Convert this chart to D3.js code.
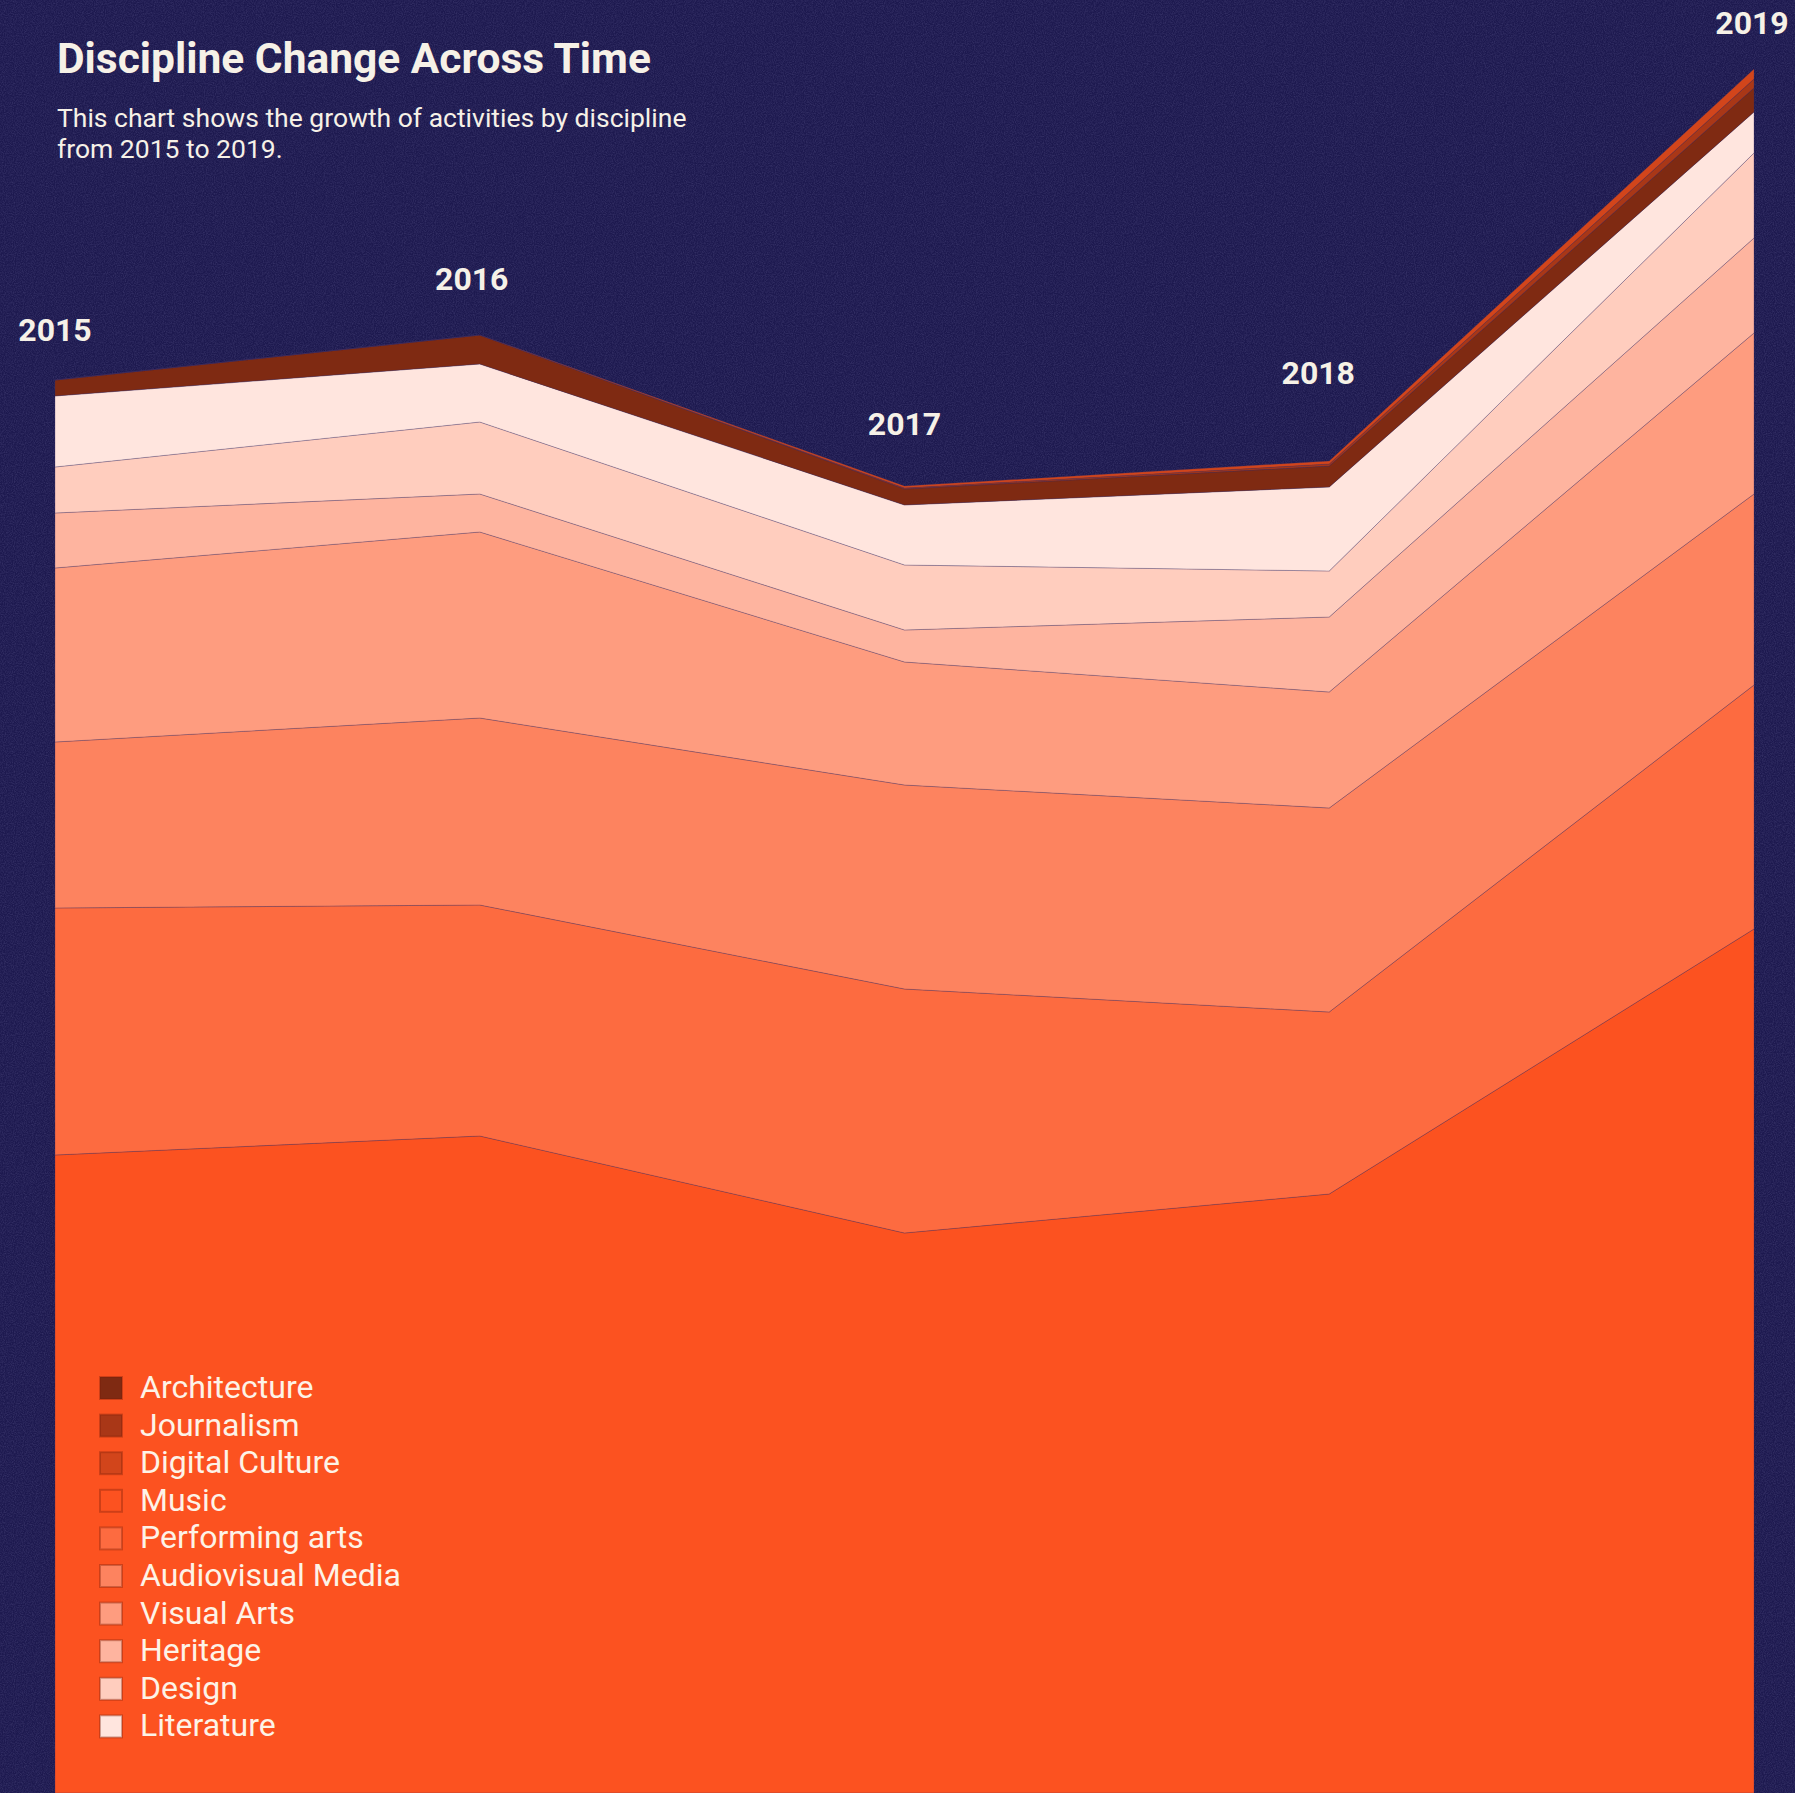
<!DOCTYPE html>
<html>
<head>
<meta charset="utf-8">
<script src="https://cdn.jsdelivr.net/npm/d3@7"></script>
<style>
  html, body { margin: 0; padding: 0; background: #1e1a50; }
  svg { display: block; }
</style>
</head>
<body>
<svg id="chart" width="1795" height="1793"></svg>
<script>
// ---- data (number of activities per discipline and year) ----
const years = [2015, 2016, 2017, 2018, 2019];
const stackKeys = ["Music", "Performing arts", "Audiovisual Media", "Visual Arts", "Heritage",
                   "Design", "Literature", "Architecture", "Journalism", "Digital Culture"];
const legendKeys = ["Architecture", "Journalism", "Digital Culture", "Music", "Performing arts",
                    "Audiovisual Media", "Visual Arts", "Heritage", "Design", "Literature"];
const music          = [638, 657, 560, 599, 864];
const performingArts = [247, 231, 244, 182, 244];
const audiovisual    = [166, 187, 204, 204, 191];
const visualArts     = [174, 186, 123, 116, 161];
const heritage       = [55, 38, 32, 75, 95];
const design         = [46, 72, 65, 46, 85];
const literature     = [71, 58, 60, 84, 41];
const architecture   = [16, 29, 16, 21, 24];
const journalism     = [0, 0, 1, 2, 9];
const digitalCulture = [0, 0, 2, 3, 10];
const titleText = "Discipline Change Across Time";
const subtitleLines = ["This chart shows the growth of activities by discipline", "from 2015 to 2019."];

// ---- build table ----
const seriesByKey = {
  "Music": music, "Performing arts": performingArts, "Audiovisual Media": audiovisual,
  "Visual Arts": visualArts, "Heritage": heritage, "Design": design, "Literature": literature,
  "Architecture": architecture, "Journalism": journalism, "Digital Culture": digitalCulture
};
const table = years.map((y, i) => {
  const row = { year: y };
  stackKeys.forEach(k => row[k] = seriesByKey[k][i]);
  return row;
});

const W = 1795, H = 1793;
const bg = "#1d194f";
const svg = d3.select("#chart");

// background with grain
const defs = svg.append("defs");
const f = defs.append("filter").attr("id", "grain").attr("x", 0).attr("y", 0).attr("width", "100%").attr("height", "100%");
f.append("feTurbulence").attr("type", "fractalNoise").attr("baseFrequency", 0.9).attr("numOctaves", 2).attr("seed", 3);
f.append("feColorMatrix").attr("type", "matrix")
  .attr("values", "0 0 0 0 0.3  0 0 0 0 0.28  0 0 0 0 0.55  0.35 0 0 0 -0.12");
svg.append("rect").attr("width", W).attr("height", H).attr("fill", bg);
svg.append("rect").attr("width", W).attr("height", H).attr("filter", "url(#grain)");

// colours
const dark = "#7f2a12", mid = "#fc5220", light = "#ffe5de";
const colour = d3.scaleOrdinal().domain(legendKeys).range([
  dark, d3.interpolateRgb(dark, mid)(1/3), d3.interpolateRgb(dark, mid)(2/3), mid,
  d3.interpolateRgb(mid, light)(1/6), d3.interpolateRgb(mid, light)(2/6), d3.interpolateRgb(mid, light)(3/6),
  d3.interpolateRgb(mid, light)(4/6), d3.interpolateRgb(mid, light)(5/6), light
]);

// scales
const stack = d3.stack().keys(stackKeys);
const layers = stack(table);
const yMax = d3.max(layers[layers.length - 1], d => d[1]);
const x = d3.scaleLinear().domain(d3.extent(years)).range([55, 1754]);
const y = d3.scaleLinear().domain([0, yMax]).range([H, 69]);

const area = d3.area()
  .x(d => x(d.data.year))
  .y0(d => y(d[0]))
  .y1(d => y(d[1]));

svg.append("g").selectAll("path").data(layers).join("path")
  .attr("d", area)
  .attr("fill", d => colour(d.key))
  .attr("stroke", "rgba(60,45,100,0.28)")
  .attr("stroke-width", 1);

// year labels above the stack
const labelLift = [39, 45, 51, 77, 35];
const labelShift = [0, -8, 0, -11, -2];
const totals = layers[layers.length - 1];
svg.append("g").selectAll("text").data(totals).join("text")
  .attr("x", (d, i) => x(d.data.year) + labelShift[i])
  .attr("y", (d, i) => y(d[1]) - labelLift[i])
  .attr("text-anchor", "middle")
  .attr("font-family", "Roboto, sans-serif")
  .attr("font-weight", 700)
  .attr("font-size", 32)
  .attr("fill", "#f6f1e7")
  .text(d => d.data.year);

// title
svg.append("text").attr("x", 57).attr("y", 73)
  .attr("font-family", "Roboto, sans-serif").attr("font-weight", 700)
  .attr("font-size", 42.5).attr("fill", "#f6f1e7").text(titleText);
svg.append("g").selectAll("text").data(subtitleLines).join("text")
  .attr("x", 57).attr("y", (d, i) => 127 + i * 31)
  .attr("font-family", "Roboto, sans-serif").attr("font-weight", 400)
  .attr("font-size", 26.5).attr("fill", "#f6f1e7").text(d => d);

// legend
const lg = svg.append("g").attr("transform", "translate(100,1377)");
const item = lg.selectAll("g").data(legendKeys).join("g")
  .attr("transform", (d, i) => `translate(0,${i * 37.6})`);
item.append("rect").attr("width", 22).attr("height", 22)
  .attr("fill", d => colour(d))
  .attr("stroke", "rgba(120,30,10,0.35)").attr("stroke-width", 2);
item.append("text").attr("x", 40).attr("y", 21)
  .attr("font-family", "Roboto, sans-serif").attr("font-size", 32)
  .attr("fill", "#fdf3e7").text(d => d);
</script>
</body>
</html>
